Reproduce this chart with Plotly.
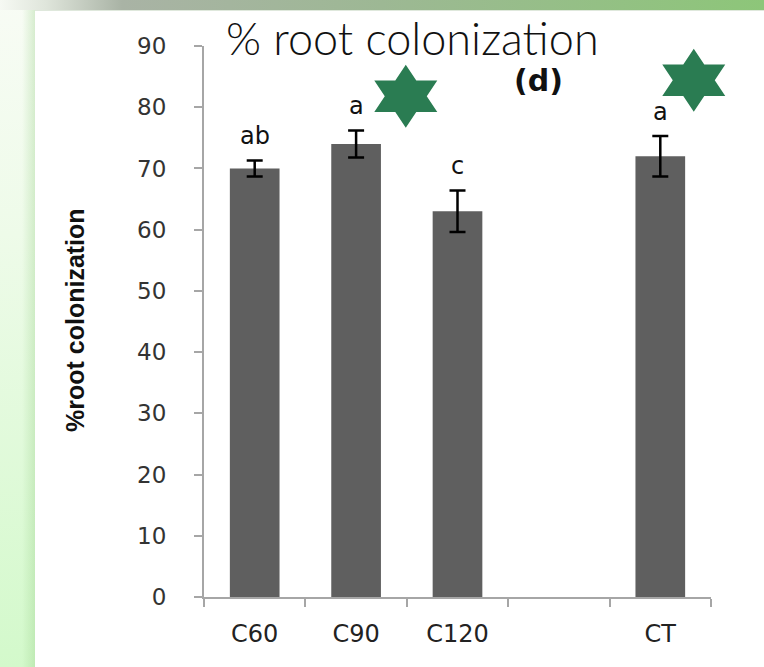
import base64
import math
import plotly.graph_objects as go

# Chart data
categories = ["C60", "C90", "C120", " ", "CT"]
colonization = [70, 74, 63, None, 72]
std_error = [1.3, 2.2, 3.4, None, 3.3]
sig_letters = ["ab", "a", "c", "", "a"]
y_ticks = [0, 10, 20, 30, 40, 50, 60, 70, 80, 90]
y_max = 90

# Decorative stars (category index, y value)
star_x = [1.49, 4.33]
star_y = [81.8, 84.4]

W, H = 764, 667
L, R, T, B = 204, 53, 46, 70
PW, PH = W - L - R, H - T - B

BAR_COLOR = "#5f5f5f"
AXIS_COLOR = "#a6a6a6"
STAR_COLOR = "#2a7c52"

# Slide-like backdrop: green gradient borders around a white panel
svg = f"""<svg xmlns='http://www.w3.org/2000/svg' width='{W}' height='{H}' viewBox='0 0 {W} {H}' preserveAspectRatio='none'>
<defs>
<linearGradient id='top' x1='0' y1='0' x2='1' y2='0'>
<stop offset='0' stop-color='#f6f9f3'/>
<stop offset='0.06' stop-color='#dfe5db'/>
<stop offset='0.16' stop-color='#a9b3a5'/>
<stop offset='0.5' stop-color='#9db894'/>
<stop offset='1' stop-color='#8dc679'/>
</linearGradient>
<linearGradient id='left' x1='0' y1='0' x2='0' y2='1'>
<stop offset='0' stop-color='#f8fcf5'/>
<stop offset='0.35' stop-color='#eefbe9'/>
<stop offset='1' stop-color='#d3f9cb'/>
</linearGradient>
<linearGradient id='edge' x1='0' y1='0' x2='1' y2='0'>
<stop offset='0' stop-color='#9ad08a' stop-opacity='0'/>
<stop offset='1' stop-color='#9ad08a' stop-opacity='0.35'/>
</linearGradient>
</defs>
<rect x='0' y='0' width='{W}' height='{H}' fill='url(#left)'/>
<rect x='22' y='0' width='13' height='{H}' fill='url(#edge)'/>
<rect x='0' y='0' width='{W}' height='10' fill='url(#top)'/>
<rect x='35' y='10' width='{W - 35}' height='{H - 10}' fill='#ffffff'/>
<rect x='35' y='10' width='{W - 35}' height='1' fill='#dfe8dc'/>
</svg>"""
bg_src = "data:image/svg+xml;base64," + base64.b64encode(svg.encode()).decode()

fig = go.Figure()
fig.add_trace(go.Bar(
    x=categories,
    y=colonization,
    marker=dict(color=BAR_COLOR, line=dict(width=0)),
    width=0.49,
    error_y=dict(type="data", array=std_error, visible=True,
                 color="#000000", thickness=2.5, width=8),
    hoverinfo="skip",
))

# Significance letters above the error bars
for i, (v, e, txt) in enumerate(zip(colonization, std_error, sig_letters)):
    if not txt or v is None:
        continue
    fig.add_annotation(x=i, y=v + e, text=txt, showarrow=False,
                       xref="x", yref="y", yanchor="bottom", yshift=8,
                       font=dict(family="DejaVu Sans", size=24, color="#111111"))

# Six-pointed stars, drawn in pixel units around their anchor
def hexagram_path(h, w):
    ro = h / 2
    ri = ro / math.sqrt(3)
    sx = w / (2 * ro * math.cos(math.radians(30)))
    pts = []
    for k in range(12):
        ang = math.radians(90 + 30 * k)
        r = ro if k % 2 == 0 else ri
        pts.append((sx * r * math.cos(ang), r * math.sin(ang)))
    return "M " + " L ".join(f"{px:.2f},{py:.2f}" for px, py in pts) + " Z"

n_cat = len(categories)
star_path = hexagram_path(63, 63)
for cx, cy in zip(star_x, star_y):
    # paper-referenced so the star is free to extend past the plot area
    fig.add_shape(type="path", path=star_path, xref="paper", yref="paper",
                  xsizemode="pixel", ysizemode="pixel",
                  xanchor=(cx + 0.5) / n_cat, yanchor=cy / y_max,
                  fillcolor=STAR_COLOR, line=dict(width=0), layer="above")

# Titles
fig.add_annotation(x=(412 - L) / PW, y=(H - B - 38) / PH, xref="paper", yref="paper",
                   text="% root colonization", showarrow=False,
                   xanchor="center", yanchor="middle",
                   font=dict(family="Lato", size=45, color="#111111", weight=300))
fig.add_annotation(x=(538 - L) / PW, y=(H - B - 80) / PH, xref="paper", yref="paper",
                   text="<b>(d)</b>", showarrow=False,
                   xanchor="center", yanchor="middle",
                   font=dict(family="DejaVu Sans", size=30, color="#111111"))
fig.add_annotation(x=(75 - L) / PW, y=(H - B - 320) / PH, xref="paper", yref="paper",
                   text="<b>%root colonization</b>", showarrow=False, textangle=-90,
                   xanchor="center", yanchor="middle",
                   font=dict(family="Liberation Sans", size=25, color="#111111"))

fig.add_layout_image(dict(source=bg_src, xref="paper", yref="paper",
                          x=-L / PW, y=(H - B) / PH, sizex=W / PW, sizey=H / PH,
                          xanchor="left", yanchor="top", sizing="stretch",
                          layer="below"))

fig.update_layout(
    width=W, height=H,
    margin=dict(l=L, r=R, t=T, b=B, pad=0),
    paper_bgcolor="#ffffff",
    plot_bgcolor="rgba(0,0,0,0)",
    showlegend=False,
    bargap=0.51,
)
fig.update_xaxes(
    type="category", categoryorder="array", categoryarray=categories,
    range=[-0.5, 4.5], tickson="boundaries", ticks="outside", ticklen=8,
    tickcolor=AXIS_COLOR, tickwidth=1.5, showline=True, linecolor=AXIS_COLOR,
    linewidth=2, showgrid=False, zeroline=False, ticklabelstandoff=14,
    tickfont=dict(family="DejaVu Sans", size=24, color="#222222"),
)
fig.update_yaxes(
    range=[0, y_max], tickvals=y_ticks, ticks="outside", ticklen=8,
    tickcolor=AXIS_COLOR, tickwidth=1.5, showline=True, linecolor=AXIS_COLOR,
    linewidth=2, showgrid=False, zeroline=False, ticklabelstandoff=23,
    tickfont=dict(family="DejaVu Sans", size=23, color="#333333"),
)

fig.write_html("out.html")
